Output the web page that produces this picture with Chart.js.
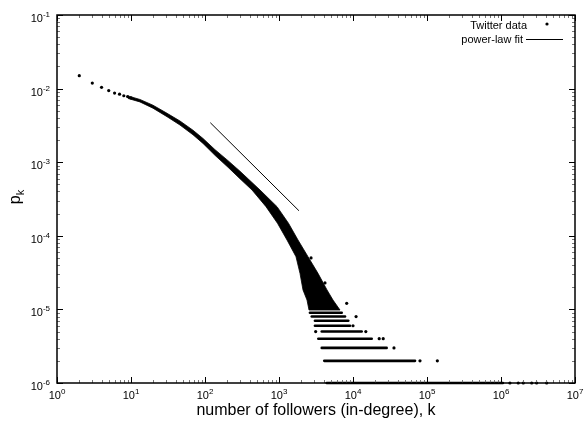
<!DOCTYPE html>
<html>
<head>
<meta charset="utf-8">
<script src="https://cdn.jsdelivr.net/npm/chart.js@4.4.1/dist/chart.umd.min.js"></script>
<style>
body{margin:0;background:#fff}
#wrap{width:585px;height:421px}
</style>
</head>
<body>
<div id="wrap"><canvas id="degChart" width="585" height="421"></canvas></div>
<script>
// in-degree distribution of twitter followers

// smallest degrees, still separate dots
const lowK = [2, 3, 4, 5, 6, 7, 8, 9, 10];
const lowP = [0.0150, 0.0119, 0.0104, 0.0094, 0.0087, 0.0084, 0.0080, 0.0078, 0.0075];

// outline of the dense part: upper edge going right, lower edge coming back
const cloudK = [9.11, 13.2, 19.8, 30.7, 45.9, 68.8, 94.0, 136.5, 204.6, 297, 554, 940, 1344, 1806, 2466, 3365, 4453, 5366, 6673,
                2543, 2390, 2110, 1922, 1697, 1283, 954, 667, 432, 297, 204.6, 136.5, 94.0, 68.8, 45.9, 30.7, 19.8, 13.2, 9.11];
const cloudP = [7.95e-3, 7.12e-3, 5.95e-3, 4.62e-3, 3.63e-3, 2.72e-3, 2.10e-3, 1.48e-3, 1.05e-3, 7.54e-4, 4.19e-4, 2.49e-4, 1.48e-4, 8.77e-5, 5.20e-5, 3.09e-5, 1.84e-5, 1.34e-5, 9.81e-6,
                9.81e-6, 1.34e-5, 1.84e-5, 3.09e-5, 5.20e-5, 8.77e-5, 1.48e-4, 2.49e-4, 4.19e-4, 5.96e-4, 8.54e-4, 1.24e-3, 1.80e-3, 2.36e-3, 3.20e-3, 4.15e-3, 5.42e-3, 6.59e-3, 7.35e-3];

// rows of degrees seen only n times (p = n/N)
const rowP    = [1e-6, 2e-6, 3e-6, 4e-6, 5e-6, 6e-6, 7e-6, 8e-6, 9e-6];
const rowFrom = [4410, 4090, 3780, 3400, 3780, 3060, 3060, 2770, 2620];
const rowTo   = [1.06e6, 68900, 28500, 17900, 13100, 9100, 8640, 7800, 7040];

// stray points off the rows / cloud
const strayK = [1.32e6, 1.71e6, 2.0e6, 2.6e6, 3.03e6, 4.14e6, 80400, 138000, 35800, 22600, 25600, 3130, 14900, 10000, 11000, 8220, 4180, 2710];
const strayP = [1e-6, 1e-6, 1e-6, 1e-6, 1e-6, 1e-6, 2e-6, 2e-6, 3e-6, 4e-6, 4e-6, 5e-6, 5e-6, 6e-6, 8e-6, 1.21e-5, 2.29e-5, 5.0e-5];

// power-law fit segment
const fitK = [118, 1860];
const fitP = [3.44e-3, 2.19e-4];

// tick labels (powers of ten)
const xExp = [0, 1, 2, 3, 4, 5, 6, 7];
const yExp = [-6, -5, -4, -3, -2, -1];
const minorMul = [2, 3, 4, 5, 6, 7, 8, 9];

const FONT = 'Liberation Sans, Arial, Helvetica, sans-serif';

function pts(ks, ps) {
  return ks.map((k, i) => ({x: k, y: ps[i]}));
}

let datasets = [];
datasets.push({
  label: 'cloud', data: pts(cloudK, cloudP), showLine: true, fill: 'shape',
  backgroundColor: '#000', borderColor: '#000', borderWidth: 0.8, pointRadius: 0, tension: 0
});
rowP.forEach((p, i) => {
  datasets.push({
    label: 'row' + (i + 1), data: [{x: rowFrom[i], y: p}, {x: rowTo[i], y: p}],
    showLine: true, fill: false, borderColor: '#000', borderWidth: 2.6, borderCapStyle: 'round',
    pointRadius: 0, clip: false
  });
});
datasets.push({
  label: 'Twitter data', data: pts(lowK, lowP).concat(pts(strayK, strayP)),
  showLine: false, pointRadius: 1.6, pointBackgroundColor: '#000', pointBorderWidth: 0, clip: false
});
datasets.push({
  label: 'power-law fit', data: pts(fitK, fitP), showLine: true, fill: false,
  borderColor: '#000', borderWidth: 1, pointRadius: 0
});

// "10" with a raised exponent
function pow10(ctx, e, x, y, align) {
  ctx.font = '11px ' + FONT;
  let w1 = ctx.measureText('10').width;
  ctx.font = '8px ' + FONT;
  let w2 = ctx.measureText(String(e)).width;
  let x0 = align == 'center' ? x - (w1 + w2) / 2 : x - w1 - w2;
  ctx.textAlign = 'left';
  ctx.textBaseline = 'alphabetic';
  ctx.font = '11px ' + FONT;
  ctx.fillText('10', x0, y);
  ctx.font = '8px ' + FONT;
  ctx.fillText(String(e), x0 + w1, y - 5);
}

const gnuAxes = {
  id: 'gnuAxes',
  afterDraw(chart) {
    const {ctx, chartArea: a} = chart;
    const xs = chart.scales.x, ys = chart.scales.y;
    ctx.save();
    ctx.lineWidth = 1;

    // minor ticks
    ctx.strokeStyle = '#777';
    ctx.beginPath();
    xExp.slice(0, -1).forEach(e => {
      minorMul.forEach(m => {
        let px = Math.round(xs.getPixelForValue(m * Math.pow(10, e))) + 0.5;
        ctx.moveTo(px, a.bottom); ctx.lineTo(px, a.bottom - 3);
        ctx.moveTo(px, a.top); ctx.lineTo(px, a.top + 3);
      });
    });
    yExp.slice(0, -1).forEach(e => {
      minorMul.forEach(m => {
        let py = Math.round(ys.getPixelForValue(m * Math.pow(10, e))) + 0.5;
        ctx.moveTo(a.left, py); ctx.lineTo(a.left + 3, py);
        ctx.moveTo(a.right, py); ctx.lineTo(a.right - 3, py);
      });
    });
    ctx.stroke();

    // major ticks
    ctx.strokeStyle = '#000';
    ctx.beginPath();
    xExp.forEach(e => {
      let px = Math.round(xs.getPixelForValue(Math.pow(10, e))) + 0.5;
      ctx.moveTo(px, a.bottom); ctx.lineTo(px, a.bottom - 6);
      ctx.moveTo(px, a.top); ctx.lineTo(px, a.top + 6);
    });
    yExp.forEach(e => {
      let py = Math.round(ys.getPixelForValue(Math.pow(10, e))) + 0.5;
      ctx.moveTo(a.left, py); ctx.lineTo(a.left + 6, py);
      ctx.moveTo(a.right, py); ctx.lineTo(a.right - 6, py);
    });
    ctx.stroke();

    // frame
    ctx.lineWidth = 1.5;
    ctx.strokeRect(a.left, a.top, a.right - a.left, a.bottom - a.top);

    // tick labels
    ctx.fillStyle = '#000';
    xExp.forEach(e => pow10(ctx, e, xs.getPixelForValue(Math.pow(10, e)), a.bottom + 16, 'center'));
    yExp.forEach(e => pow10(ctx, e, a.left - 7, ys.getPixelForValue(Math.pow(10, e)) + 7, 'right'));

    // axis titles
    ctx.font = '16px ' + FONT;
    ctx.textAlign = 'center';
    ctx.textBaseline = 'alphabetic';
    ctx.fillText('number of followers (in-degree), k', (a.left + a.right) / 2, 415);

    ctx.save();
    ctx.translate(20, (a.top + a.bottom) / 2 - 2);
    ctx.rotate(-Math.PI / 2);
    ctx.font = '16px ' + FONT;
    let wp = ctx.measureText('p').width;
    ctx.font = '11px ' + FONT;
    let wk = ctx.measureText('k').width;
    ctx.font = '16px ' + FONT;
    ctx.textAlign = 'left';
    ctx.fillText('p', -(wp + wk) / 2, 0);
    ctx.font = '11px ' + FONT;
    ctx.fillText('k', -(wp + wk) / 2 + wp, 4);
    ctx.restore();

    // key
    ctx.font = '11px ' + FONT;
    ctx.textAlign = 'right';
    ctx.fillText('Twitter data', 527, 28.5);
    ctx.fillText('power-law fit', 523, 43);
    ctx.beginPath();
    ctx.arc(547, 24, 1.6, 0, Math.PI * 2);
    ctx.fill();
    ctx.lineWidth = 1;
    ctx.beginPath();
    ctx.moveTo(526, 39.5); ctx.lineTo(563, 39.5);
    ctx.stroke();
    ctx.restore();
  }
};

new Chart(document.getElementById('degChart'), {
  type: 'line',
  data: {datasets: datasets},
  options: {
    responsive: false,
    animation: false,
    devicePixelRatio: 1,
    events: [],
    layout: {padding: {left: 57, right: 10, top: 15, bottom: 38}},
    plugins: {legend: {display: false}, tooltip: {enabled: false}},
    scales: {
      x: {type: 'logarithmic', min: 1, max: 1e7, display: false},
      y: {type: 'logarithmic', min: 1e-6, max: 1e-1, display: false}
    }
  },
  plugins: [gnuAxes]
});
</script>
</body>
</html>
